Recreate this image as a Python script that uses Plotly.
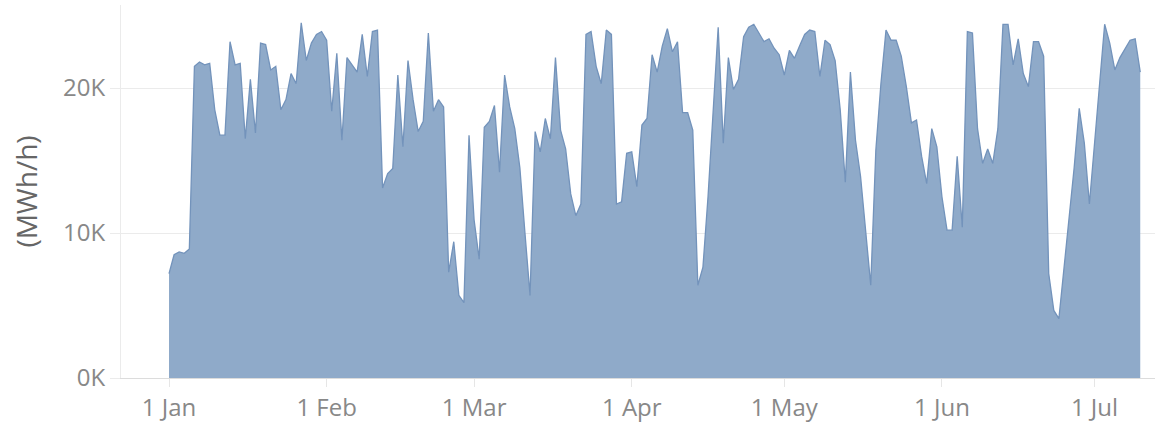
import pandas as pd
import plotly.graph_objects as go

start_date = "2020-01-01"
# Daily values (MWh/h), 1 Jan .. 10 Jul
values = [
    7200, 8500, 8700, 8600, 8900, 21500, 21800, 21600, 21700, 18500,
    16750, 16750, 23200, 21600, 21700, 16500, 20600, 16900, 23100, 23000,
    21250, 21500, 18500, 19200, 21000, 20300, 24500, 21900, 23100, 23700,
    23900, 23300, 18400, 22400, 16400, 22100, 21600, 21100, 23700, 20800,
    23900, 24000, 13100, 14100, 14450, 20900, 15950, 21900, 19200, 17000,
    17700, 23800, 18400, 19200, 18700, 7300, 9400, 5700, 5200, 16750,
    10900, 8200, 17300, 17700, 18800, 14200, 20900, 18700, 17200, 14500,
    10000, 5700, 17000, 15600, 17900, 16500, 22100, 17100, 15800, 12700,
    11200, 12000, 23700, 23900, 21500, 20300, 24000, 23700, 12000, 12150,
    15500, 15600, 13200, 17450, 17900, 22300, 21100, 22900, 24100, 22500,
    23200, 18300, 18300, 17100, 6400, 7650, 12500, 18500, 24200, 16200,
    22100, 19900, 20600, 23550, 24200, 24400, 23800, 23200, 23400, 22750,
    22300, 20900, 22600, 22050, 22900, 23700, 24000, 23900, 20800, 23300,
    23000, 21900, 18500, 13500, 21100, 16400, 13900, 10000, 6400, 15700,
    20300, 24000, 23300, 23300, 22200, 20100, 17600, 17800, 15300, 13400,
    17200, 15950, 12500, 10200, 10200, 15300, 10400, 23900, 23800, 17200,
    14800, 15800, 14800, 17200, 24400, 24400, 21600, 23400, 21000, 20100,
    23200, 23200, 22200, 7200, 4660, 4100, 7500, 11100, 14500, 18600,
    16200, 12000, 16000, 20000, 24400, 23100, 21250, 22100, 22750, 23300,
    23400, 21100,
]
y_ticks = [0, 10000, 20000]
y_tick_labels = ["0K", "10K", "20K"]
y_title = "(MWh/h)"

dates = pd.date_range(start_date, periods=len(values), freq="D")

fig = go.Figure()
fig.add_trace(go.Scatter(
    x=dates, y=values, mode="lines", fill="tozeroy",
    line=dict(color="#7393bb", width=1.3),
    fillcolor="#8faac9",
    hoverinfo="x+y",
))

font_family = "Open Sans, sans-serif"
fig.update_layout(
    width=1157, height=426,
    margin=dict(l=121, r=2, t=5, b=48),
    paper_bgcolor="white", plot_bgcolor="white",
    showlegend=False,
    font=dict(family=font_family, size=24, color="#888888"),
)
fig.update_xaxes(
    automargin=False,
    range=["2019-12-22 13:26", "2020-07-12 21:36"],
    dtick="M1", tick0="2020-01-01", tickformat="%-d %b",
    showgrid=False, zeroline=False,
    showline=True, linecolor="#dcdcdc", linewidth=1,
    ticks="outside", ticklen=8, tickcolor="#e6e6e6",
    tickfont=dict(size=24, color="#888888"),
)
fig.update_yaxes(
    automargin=False,
    range=[0, 25730],
    tickvals=y_ticks, ticktext=y_tick_labels,
    showgrid=True, gridcolor="#ebebeb", gridwidth=1,
    zeroline=False,
    showline=True, linecolor="#ebebeb", linewidth=1,
    ticks="outside", ticklen=10, tickcolor="#ebebeb",
    tickfont=dict(size=24, color="#888888"),
    title=dict(text=y_title, font=dict(size=28, color="#666666"), standoff=17),
)

fig.write_html(
    "out.html",
    config={"displayModeBar": False},
    post_script="document.body.style.margin='0';document.body.style.overflow='hidden';",
)
